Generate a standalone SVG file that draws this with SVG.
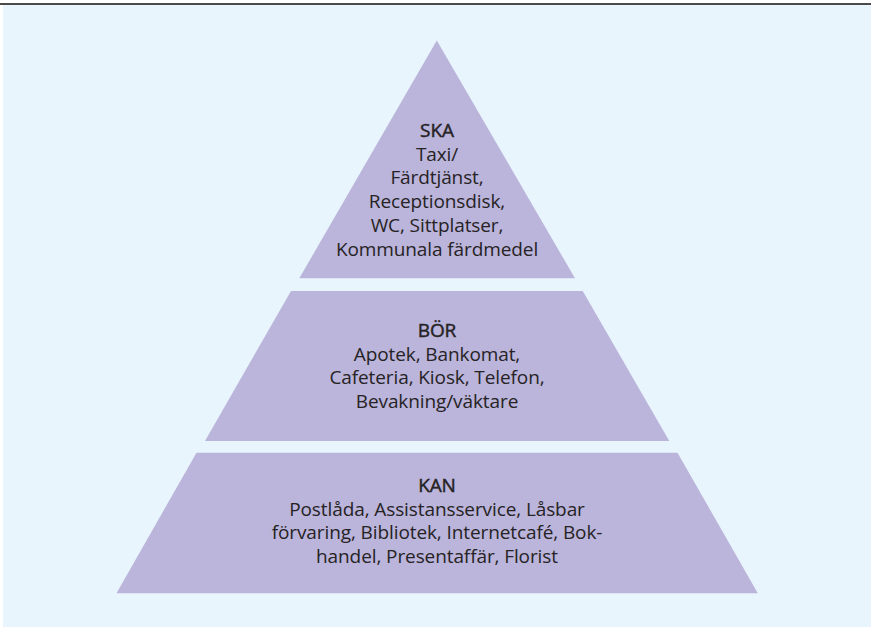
<svg xmlns="http://www.w3.org/2000/svg" width="871" height="627" viewBox="0 0 871 627">
  <style>
    .tier { fill: #bbb4db; }
    .label { font-family: "Open Sans", "Noto Sans", "Liberation Sans", sans-serif; font-size: 19px; fill: #262324; text-anchor: middle; letter-spacing: -0.1px; }
    .head { stroke: #262324; stroke-width: 0.45px; }
  </style>
  <!-- page background and top rule -->
  <rect x="3" y="4" width="868" height="623" fill="#e8f5fd"/>
  <rect x="0" y="3" width="871" height="2" fill="#4a4a4a"/>

  <g id="ska">
    <polygon class="tier" points="436.8,40.5 575,278.3 299.3,278.3"/>
    <text class="label" x="437"><tspan class="head" x="437" y="136.5">SKA</tspan><tspan x="437" y="160.5">Taxi/</tspan><tspan x="437" y="184">Färdtjänst,</tspan><tspan x="437" y="208">Receptionsdisk,</tspan><tspan x="437" y="231.5">WC, Sittplatser,</tspan><tspan x="437" y="255.5">Kommunala färdmedel</tspan></text>
  </g>

  <g id="bor">
    <polygon class="tier" points="291,291 582.7,291 669.3,441 205,441"/>
    <text class="label" x="437"><tspan class="head" x="437" y="336.5">BÖR</tspan><tspan x="437" y="360.5">Apotek, Bankomat,</tspan><tspan x="437" y="384">Cafeteria, Kiosk, Telefon,</tspan><tspan x="437" y="408">Bevakning/väktare</tspan></text>
  </g>

  <g id="kan">
    <polygon class="tier" points="196.5,452.7 677.5,452.7 757.8,593.3 116.5,593.3"/>
    <text class="label" x="437"><tspan class="head" x="437" y="491.5">KAN</tspan><tspan x="437" y="515.5">Postlåda, Assistansservice, Låsbar</tspan><tspan x="437" y="539">förvaring, Bibliotek, Internetcafé, Bok-</tspan><tspan x="437" y="563">handel, Presentaffär, Florist</tspan></text>
  </g>

  <g id="connectors"/>
</svg>
